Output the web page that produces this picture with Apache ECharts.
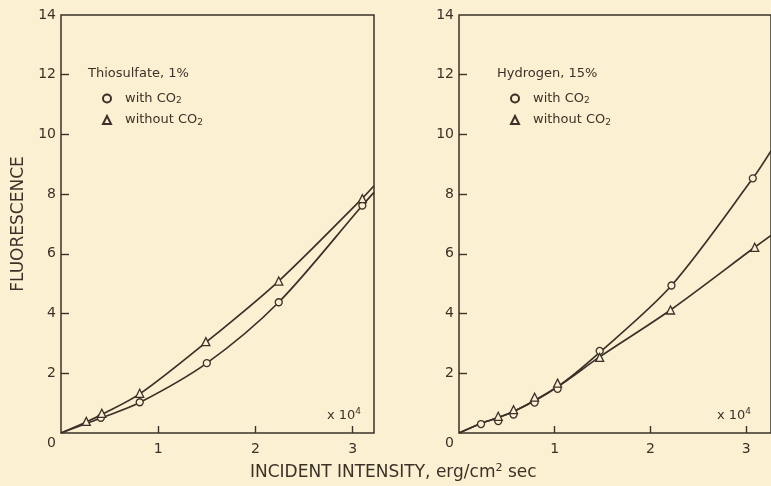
<!DOCTYPE html>
<html>
<head>
<meta charset="utf-8">
<script src="https://cdn.jsdelivr.net/npm/echarts@6/dist/echarts.min.js"></script>
<style>
  html, body { margin: 0; padding: 0; background: #fcf0d3; }
  #chart { width: 771px; height: 486px; }
</style>
</head>
<body>
<div id="chart"></div>
<script>
// ---------- data (x in units of 10^4 erg/cm^2 sec) ----------
// Left panel: Thiosulfate, 1%
const thioWithX     = [0.41, 0.81, 1.50, 2.24, 3.10];
const thioWithY     = [0.51, 1.03, 2.34, 4.38, 7.62];
const thioWithoutX  = [0.26, 0.42, 0.81, 1.49, 2.24, 3.10];
const thioWithoutY  = [0.39, 0.66, 1.33, 3.06, 5.09, 7.85];
// fitted curves drawn in the figure
const thioWithCurveX    = [0, 0.41, 0.81, 1.50, 2.24, 3.10, 3.22];
const thioWithCurveY    = [0, 0.50, 1.02, 2.34, 4.38, 7.62, 8.06];
const thioWithoutCurveX = [0, 0.26, 0.42, 0.81, 1.50, 2.24, 3.10, 3.22];
const thioWithoutCurveY = [0, 0.37, 0.62, 1.31, 3.06, 5.09, 7.86, 8.28];

// Right panel: Hydrogen, 15%
const hydWithX     = [0.23, 0.41, 0.57, 0.79, 1.03, 1.47, 2.22, 3.07];
const hydWithY     = [0.30, 0.40, 0.62, 1.02, 1.48, 2.75, 4.94, 8.53];
const hydWithoutX  = [0.41, 0.57, 0.79, 1.03, 1.47, 2.21, 3.09];
const hydWithoutY  = [0.56, 0.78, 1.20, 1.67, 2.53, 4.12, 6.22];
const hydWithCurveX    = [0, 0.23, 0.57, 1.03, 1.47, 2.22, 3.07, 3.26];
const hydWithCurveY    = [0, 0.32, 0.72, 1.55, 2.70, 4.94, 8.53, 9.45];
const hydWithoutCurveX = [0, 0.23, 0.57, 1.03, 1.47, 2.21, 3.09, 3.26];
const hydWithoutCurveY = [0, 0.32, 0.72, 1.55, 2.55, 4.12, 6.22, 6.62];

// axes / tick labels
const xTickValues = [1, 2, 3];
const yTickValues = [0, 2, 4, 6, 8, 10, 12, 14];
const panelTitles = ['Thiosulfate, 1%', 'Hydrogen, 15%'];
const seriesNames = ['with CO2', 'without CO2'];
const yAxisTitle = 'FLUORESCENCE';
const xAxisTitle = 'INCIDENT INTENSITY, erg/cm{sup|2} sec';
const scaleNote = 'x 10{sup|4}';

// ---------- styling ----------
const INK = '#3a3228';
const BG = '#fcf0d3';
const FONT = 'DejaVu Sans';

const zip = (xs, ys) => xs.map((x, i) => [x, ys[i]]);

function xAxisFor(grid, max) {
  return {
    type: 'value', gridIndex: grid, min: 0, max: max,
    axisLine: { show: false },
    splitLine: { show: false },
    axisTick: { inside: true, length: 7, lineStyle: { color: INK, width: 1.4 }, customValues: xTickValues },
    axisLabel: { customValues: xTickValues, color: INK, fontFamily: FONT, fontSize: 14, margin: 9 }
  };
}
function yAxisFor(grid, withName) {
  const ax = {
    type: 'value', gridIndex: grid, min: 0, max: 14, interval: 2,
    axisLine: { show: false },
    splitLine: { show: false },
    axisTick: { inside: true, length: 8, lineStyle: { color: INK, width: 1.4 }, customValues: yTickValues.slice(1, -1) },
    axisLabel: {
      customValues: yTickValues,
      color: INK, fontFamily: FONT, fontSize: 14, margin: 5,
      formatter: v => v === 0 ? '{z|0}' : String(v),
      rich: { z: { fontFamily: FONT, fontSize: 14, color: INK, padding: [20, 0, 0, 0] } }
    }
  };
  if (withName) {
    Object.assign(ax, {
      name: yAxisTitle, nameLocation: 'middle', nameGap: 34, nameRotate: 90,
      nameTextStyle: { color: INK, fontFamily: FONT, fontSize: 17 }
    });
  }
  return ax;
}
function curve(name, grid, xs, ys) {
  return {
    name: name, type: 'line', xAxisIndex: grid, yAxisIndex: grid,
    data: zip(xs, ys), smooth: 0.3,
    showSymbol: false, silent: true, z: 2,
    lineStyle: { color: INK, width: 1.7 }
  };
}
function marks(name, grid, xs, ys, symbol, size) {
  return {
    name: name, type: 'scatter', xAxisIndex: grid, yAxisIndex: grid,
    data: zip(xs, ys), symbol: symbol, symbolSize: size, z: 5,
    itemStyle: { color: BG, borderColor: INK, borderWidth: 1.3, opacity: 1 }
  };
}
const legendRich = {
  t: { fontFamily: FONT, fontSize: 13, color: INK, lineHeight: 14 },
  sub: { fontFamily: FONT, fontSize: 9, color: INK, lineHeight: 14, verticalAlign: 'bottom' }
};
function legendFor(left) {
  return {
    orient: 'vertical', left: left, top: 87, itemWidth: 8, itemHeight: 8, itemGap: 8,
    selectedMode: false, data: seriesNames,
    formatter: n => '{t|' + n.replace('CO2', 'CO') + '}{sub|2}',
    textStyle: { padding: [0, 0, 0, 9], rich: legendRich }
  };
}
const titleStyle = { fontFamily: FONT, fontSize: 13, fontWeight: 'normal', color: INK };
const supStyle = (fs, lh) => ({ fontFamily: FONT, fontSize: fs, color: INK, verticalAlign: 'top', lineHeight: lh });

const chart = echarts.init(document.getElementById('chart'), null, { renderer: 'canvas' });
chart.setOption({
  backgroundColor: BG,
  animation: false,
  grid: [
    { left: 61, top: 15, width: 313, height: 418, show: true, borderColor: INK, borderWidth: 1.5, backgroundColor: 'transparent' },
    { left: 459, top: 15, width: 316, height: 418, show: true, borderColor: INK, borderWidth: 1.5, backgroundColor: 'transparent' }
  ],
  xAxis: [xAxisFor(0, 3.22), xAxisFor(1, 3.26)],
  yAxis: [yAxisFor(0, true), yAxisFor(1, false)],
  legend: [legendFor(97), legendFor(505)],
  title: [
    { text: panelTitles[0], left: 83, top: 62, textStyle: titleStyle },
    { text: panelTitles[1], left: 492, top: 62, textStyle: titleStyle },
    { text: scaleNote, left: 322, top: 402, textStyle: Object.assign({}, titleStyle, { lineHeight: 18, rich: { sup: supStyle(9, 18) } }) },
    { text: scaleNote, left: 712, top: 402, textStyle: Object.assign({}, titleStyle, { lineHeight: 18, rich: { sup: supStyle(9, 18) } }) },
    { text: xAxisTitle, left: 245, top: 458, textStyle: Object.assign({}, titleStyle, { fontSize: 17, lineHeight: 20, rich: { sup: supStyle(11, 20) } }) }
  ],
  series: [
    curve('c1', 0, thioWithCurveX, thioWithCurveY),
    curve('c2', 0, thioWithoutCurveX, thioWithoutCurveY),
    curve('c3', 1, hydWithCurveX, hydWithCurveY),
    curve('c4', 1, hydWithoutCurveX, hydWithoutCurveY),
    marks(seriesNames[0], 0, thioWithX, thioWithY, 'circle', 7),
    marks(seriesNames[1], 0, thioWithoutX, thioWithoutY, 'triangle', 8),
    marks(seriesNames[0], 1, hydWithX, hydWithY, 'circle', 7),
    marks(seriesNames[1], 1, hydWithoutX, hydWithoutY, 'triangle', 8)
  ]
});
</script>
</body>
</html>
